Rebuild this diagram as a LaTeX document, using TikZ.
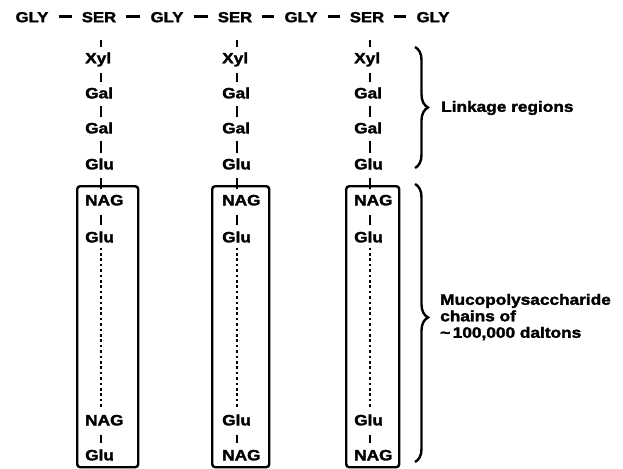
\documentclass[tikz,border=0pt]{standalone}
\usepackage{fontspec}
\newfontfamily\heavy{Liberation Sans Bold}[FakeStretch=1.15, FakeBold=2]
\usetikzlibrary{decorations.pathreplacing}
\begin{document}
\begin{tikzpicture}[x=1pt,y=-1pt,
  peptide/.style={font=\heavy\fontsize{14.5}{16}\selectfont, inner sep=0pt, text height=10.4pt, text depth=0pt},
  sugar/.style={font=\heavy\fontsize{15}{16}\selectfont, inner sep=0pt, text height=10.7pt, text depth=0pt, anchor=west},
  note/.style={font=\heavy\fontsize{15}{16.5}\selectfont, inner sep=0pt, anchor=west, align=left},
  peplink/.style={line width=3pt, shorten <=10pt, shorten >=10pt},
  bond/.style={line width=2.5pt, shorten <=7pt, shorten >=5pt},
  gap/.style={line width=2.5pt, dash pattern=on 2.6pt off 2.8pt, shorten <=5pt, shorten >=5pt},
  chainbox/.style={draw, line width=2.4pt, rounded corners=3pt, anchor=north west, minimum height=281pt},
  region/.style={line width=2.4pt, decorate, decoration={brace, amplitude=13pt}}
]
\useasboundingbox (0,0) rectangle (623,468);

% peptide backbone
\node[peptide] (gly1) at (32,17) {GLY};
\node[peptide] (ser1) at (99,17) {SER};
\node[peptide] (gly2) at (167,17) {GLY};
\node[peptide] (ser2) at (235,17) {SER};
\node[peptide] (gly3) at (301,17) {GLY};
\node[peptide] (ser3) at (367,17) {SER};
\node[peptide] (gly4) at (433,17) {GLY};
\draw[peplink] (gly1) -- (ser1);
\draw[peplink] (ser1) -- (gly2);
\draw[peplink] (gly2) -- (ser2);
\draw[peplink] (ser2) -- (gly3);
\draw[peplink] (gly3) -- (ser3);
\draw[peplink] (ser3) -- (gly4);

% chain axes
\coordinate (c1) at (101,0);
\coordinate (c2) at (237,0);
\coordinate (c3) at (370,0);

% boxes around the polysaccharide chains
\node[chainbox, minimum width=61pt] (box1) at (76,185) {};
\node[chainbox, minimum width=57pt] (box2) at (211,185) {};
\node[chainbox, minimum width=53pt] (box3) at (345,185) {};

% chain 1
\node[sugar] (xyl1) at (85,58) {Xyl};
\node[sugar] (gala1) at (85,93) {Gal};
\node[sugar] (galb1) at (85,128) {Gal};
\node[sugar] (glua1) at (85,164) {Glu};
\node[sugar] (naga1) at (85,200) {NAG};
\node[sugar] (glub1) at (85,237) {Glu};
\node[sugar] (nagb1) at (85,420) {NAG};
\node[sugar] (gluc1) at (85,455) {Glu};

% chain 2
\node[sugar] (xyl2) at (222,58) {Xyl};
\node[sugar] (gala2) at (222,93) {Gal};
\node[sugar] (galb2) at (222,128) {Gal};
\node[sugar] (glua2) at (222,164) {Glu};
\node[sugar] (naga2) at (222,200) {NAG};
\node[sugar] (glub2) at (222,237) {Glu};
\node[sugar] (gluc2) at (222,420) {Glu};
\node[sugar] (nagb2) at (222,455) {NAG};

% chain 3
\node[sugar] (xyl3) at (354,58) {Xyl};
\node[sugar] (gala3) at (354,93) {Gal};
\node[sugar] (galb3) at (354,128) {Gal};
\node[sugar] (glua3) at (354,164) {Glu};
\node[sugar] (naga3) at (354,200) {NAG};
\node[sugar] (glub3) at (354,237) {Glu};
\node[sugar] (gluc3) at (354,420) {Glu};
\node[sugar] (nagb3) at (354,455) {NAG};

% bonds, chain 1
\draw[bond, shorten <=18pt] (ser1.south -| c1) -- (xyl1.north -| c1);
\draw[bond, shorten <=9pt] (xyl1.south -| c1) -- (gala1.north -| c1);
\draw[bond] (gala1.south -| c1) -- (galb1.north -| c1);
\draw[bond] (galb1.south -| c1) -- (glua1.north -| c1);
\draw[bond, shorten <=8pt] (glua1.south -| c1) -- (naga1.north -| c1);
\draw[bond, shorten <=9pt, shorten >=6pt] (naga1.south -| c1) -- (glub1.north -| c1);
\draw[gap] (glub1.south -| c1) -- (nagb1.north -| c1);
\draw[bond, shorten <=9pt, shorten >=6pt] (nagb1.south -| c1) -- (gluc1.north -| c1);

% bonds, chain 2
\draw[bond, shorten <=18pt] (ser2.south -| c2) -- (xyl2.north -| c2);
\draw[bond, shorten <=9pt] (xyl2.south -| c2) -- (gala2.north -| c2);
\draw[bond] (gala2.south -| c2) -- (galb2.north -| c2);
\draw[bond] (galb2.south -| c2) -- (glua2.north -| c2);
\draw[bond, shorten <=8pt] (glua2.south -| c2) -- (naga2.north -| c2);
\draw[bond, shorten <=9pt, shorten >=6pt] (naga2.south -| c2) -- (glub2.north -| c2);
\draw[gap] (glub2.south -| c2) -- (gluc2.north -| c2);
\draw[bond, shorten <=9pt, shorten >=6pt] (gluc2.south -| c2) -- (nagb2.north -| c2);

% bonds, chain 3
\draw[bond, shorten <=18pt] (ser3.south -| c3) -- (xyl3.north -| c3);
\draw[bond, shorten <=9pt] (xyl3.south -| c3) -- (gala3.north -| c3);
\draw[bond] (gala3.south -| c3) -- (galb3.north -| c3);
\draw[bond] (galb3.south -| c3) -- (glua3.north -| c3);
\draw[bond, shorten <=8pt] (glua3.south -| c3) -- (naga3.north -| c3);
\draw[bond, shorten <=9pt, shorten >=6pt] (naga3.south -| c3) -- (glub3.north -| c3);
\draw[gap] (glub3.south -| c3) -- (gluc3.north -| c3);
\draw[bond, shorten <=9pt, shorten >=6pt] (gluc3.south -| c3) -- (nagb3.north -| c3);

% region braces and their labels
\coordinate (linktop) at (415,47);
\coordinate (linkbot) at (415,168);
\coordinate (chaintop) at (415,184);
\coordinate (chainbot) at (415,462);
\draw[region] (linktop) -- (linkbot);
\draw[region, decoration={aspect=0.48}] (chaintop) -- (chainbot);
\node[note] (linklabel) at (441,108) {Linkage regions};
\node[note] (chainlabel) at (440,317) {Mucopolysaccharide\\chains of\\\textasciitilde\,100,000 daltons};
\end{tikzpicture}
\end{document}
